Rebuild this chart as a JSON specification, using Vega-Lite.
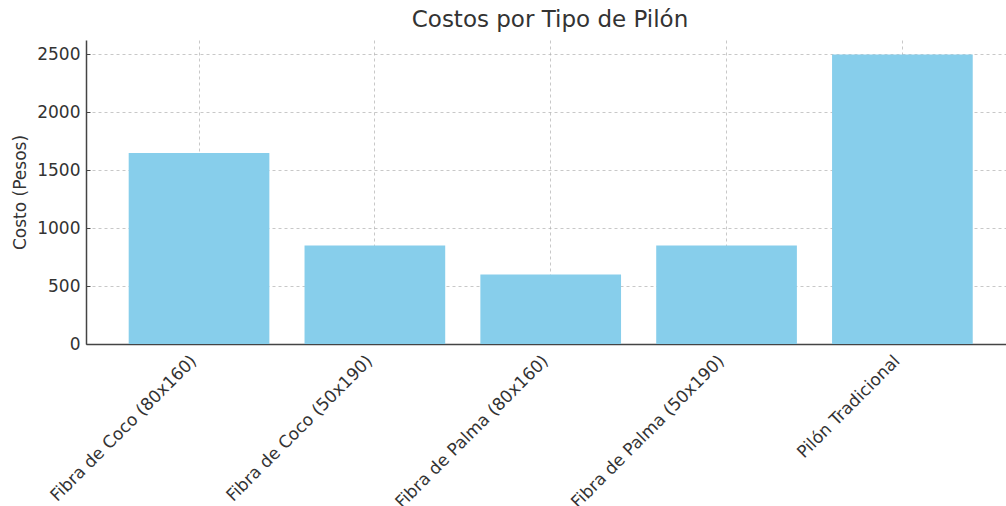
{
  "$schema": "https://vega.github.io/schema/vega-lite/v6.json",
  "autosize": {"type": "none"},
  "width": 920,
  "height": 304,
  "padding": {"left": 86, "top": 40, "right": 0, "bottom": 162},
  "background": "white",
  "title": {
    "text": "Costos por Tipo de Pilón",
    "font": "DejaVu Sans",
    "fontSize": 23,
    "fontWeight": "normal",
    "color": "#333333",
    "offset": 8,
    "dx": 4
  },
  "data": {
    "values": [
      {"tipo": "Fibra de Coco (80x160)", "costo": 1650},
      {"tipo": "Fibra de Coco (50x190)", "costo": 850},
      {"tipo": "Fibra de Palma (80x160)", "costo": 600},
      {"tipo": "Fibra de Palma (50x190)", "costo": 850},
      {"tipo": "Pilón Tradicional", "costo": 2500}
    ]
  },
  "config": {
    "view": {"stroke": null},
    "axis": {
      "labelFont": "DejaVu Sans",
      "titleFont": "DejaVu Sans",
      "labelColor": "#333333",
      "titleColor": "#333333",
      "domainColor": "#444444",
      "tickColor": "#444444",
      "gridColor": "#b0b0b0",
      "gridDash": [3, 3],
      "gridOpacity": 0.7,
      "gridWidth": 1,
      "zindex": 1
    }
  },
  "mark": {"type": "bar", "color": "#87CEEB"},
  "encoding": {
    "x": {
      "field": "tipo",
      "type": "nominal",
      "sort": null,
      "scale": {"paddingInner": 0.2, "paddingOuter": 0.216, "align": 0.562},
      "axis": {
        "title": null,
        "bandPosition": 0.5,
        "labelAngle": -45,
        "labelAlign": "right",
        "labelBaseline": "middle",
        "labelFontSize": 17,
        "labelLimit": 0,
        "labelPadding": 18,
        "labelOffset": -5,
        "tickSize": -4,
        "domainWidth": 1.5,
        "grid": true
      }
    },
    "y": {
      "field": "costo",
      "type": "quantitative",
      "scale": {"domain": [0, 2625], "nice": false},
      "axis": {
        "title": "Costo (Pesos)",
        "titleFontSize": 17,
        "titleFontWeight": "normal",
        "titlePadding": 7,
        "labelFontSize": 17,
        "format": "d",
        "values": [0, 500, 1000, 1500, 2000, 2500],
        "tickSize": -4,
        "labelPadding": 10,
        "domainWidth": 1.5,
        "grid": true
      }
    }
  }
}
